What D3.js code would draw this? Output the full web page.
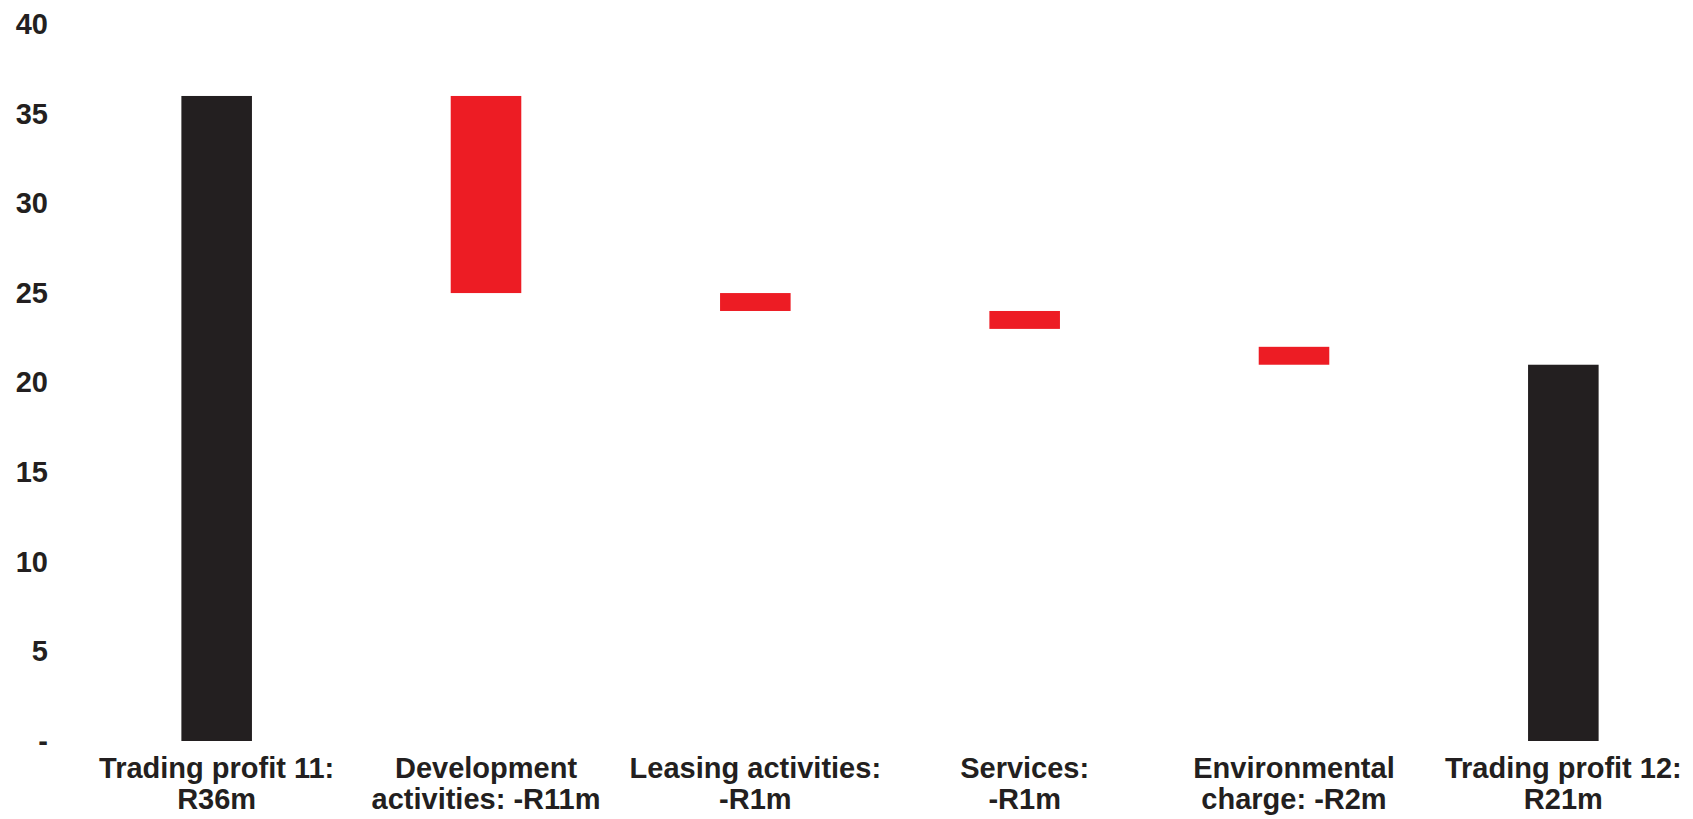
<!DOCTYPE html>
<html>
<head>
<meta charset="utf-8">
<script src="https://cdn.jsdelivr.net/npm/d3@7"></script>
<style>
  html, body { margin: 0; padding: 0; background: #ffffff; }
  svg { display: block; }
  text { font-family: "Liberation Sans", Arial, Helvetica, sans-serif; font-weight: bold; }
</style>
</head>
<body>
<script>
// Waterfall of trading profit movements (R million)
const categories = ["tp11", "dev", "leasing", "services", "env", "tp12"];
const labelLine1 = ["Trading profit 11:", "Development", "Leasing activities:", "Services:", "Environmental", "Trading profit 12:"];
const labelLine2 = ["R36m", "activities: -R11m", "-R1m", "-R1m", "charge: -R2m", "R21m"];
const barLow  = [0, 25, 24, 23, 21, 0];
const barHigh = [36, 36, 25, 24, 22, 21];
const barKind = ["total", "change", "change", "change", "change", "total"];
const yTicks = [0, 5, 10, 15, 20, 25, 30, 35, 40];

const W = 1693, H = 819;
const ink = "#231f20", red = "#ed1c24";

const svg = d3.select("body").append("svg").attr("width", W).attr("height", H);

const y = d3.scaleLinear().domain([0, 40]).range([741, 24.3]);
const x = d3.scaleBand().domain(categories).range([82, 1698])
  .paddingInner(0.738).paddingOuter(0.369);

// value axis
const yAxis = svg.append("g").attr("transform", "translate(48,0)")
  .call(d3.axisLeft(y).tickValues(yTicks).tickSize(0).tickPadding(0)
    .tickFormat(d => d === 0 ? "-" : d));
yAxis.select(".domain").remove();
yAxis.selectAll("text").attr("fill", ink).attr("font-size", 29)
  .attr("font-family", "Liberation Sans, Arial, sans-serif").attr("font-weight", "bold");

// bars
const rows = categories.map((c, i) => ({ c, lo: barLow[i], hi: barHigh[i], kind: barKind[i] }));
svg.append("g").selectAll("rect").data(rows).join("rect")
  .attr("x", d => x(d.c))
  .attr("width", x.bandwidth())
  .attr("y", d => y(d.hi))
  .attr("height", d => y(d.lo) - y(d.hi))
  .attr("fill", d => d.kind === "total" ? ink : red);

// category labels
const lab = svg.append("g").selectAll("text").data(categories).join("text")
  .attr("text-anchor", "middle")
  .attr("fill", ink)
  .attr("font-size", 29);
lab.append("tspan").attr("x", d => x(d) + x.bandwidth() / 2).attr("y", 778)
  .text((d, i) => labelLine1[i]);
lab.append("tspan").attr("x", d => x(d) + x.bandwidth() / 2).attr("y", 809)
  .text((d, i) => labelLine2[i]);
</script>
</body>
</html>
